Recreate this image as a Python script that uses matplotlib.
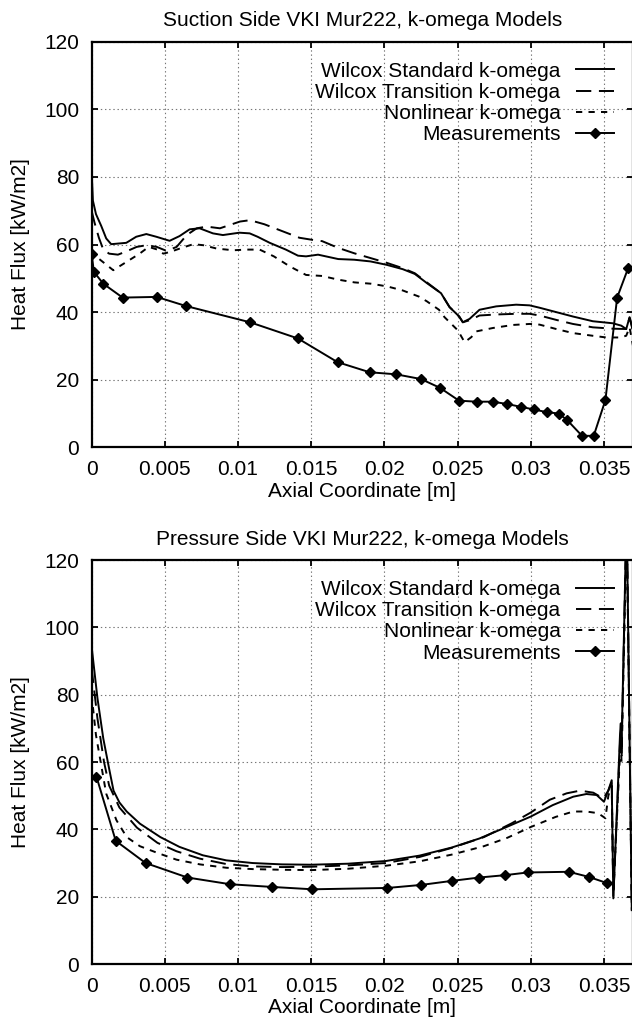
import numpy as np
import matplotlib
matplotlib.use("Agg")
import matplotlib.pyplot as plt

plt.rcParams['font.family'] = ['Liberation Sans', 'DejaVu Sans']
plt.rcParams['lines.scale_dashes'] = False

# ---- Suction side ----
ss_std_x = [0, 0.00009, 0.0003, 0.00066, 0.001, 0.00134, 0.00237, 0.00305, 0.00374, 0.00442,
            0.00533, 0.00601, 0.0067, 0.00738, 0.00829, 0.00897, 0.0101, 0.0108, 0.01134, 0.01217,
            0.01327, 0.0141, 0.01465, 0.01547, 0.016, 0.01685, 0.01795, 0.01905, 0.02015, 0.02126,
            0.02208, 0.0229, 0.02387, 0.02445, 0.02511, 0.02536, 0.02582, 0.0265, 0.02764, 0.029,
            0.02992, 0.0306, 0.03174, 0.03288, 0.03424, 0.0356, 0.03618, 0.03652, 0.03675, 0.0370]
ss_std_y = [82, 73, 69, 65.5, 61.8, 60.1, 60.5, 62.3, 63.1, 62.3,
            61.1, 62.5, 64.5, 64.8, 63.3, 62.8, 63.5, 63.3, 62.3, 60.5,
            58.5, 56.7, 56.5, 57.0, 56.5, 55.7, 55.5, 55.0, 54.0, 52.7,
            51.3, 48.6, 45.6, 41.5, 38.7, 37.0, 38.0, 40.7, 41.7, 42.2,
            42.0, 41.3, 40.0, 38.7, 37.3, 36.7, 36.0, 35.0, 38.5, 34.6]

ss_tra_x = [0, 0.0002, 0.0005, 0.0008, 0.0012, 0.0018, 0.0024, 0.00308, 0.00376, 0.00445,
            0.00513, 0.00581, 0.0065, 0.00718, 0.00786, 0.00877, 0.00945, 0.01014, 0.01082, 0.0118,
            0.013, 0.0142, 0.0152, 0.01575, 0.01685, 0.01795, 0.01905, 0.02015, 0.02126, 0.02208,
            0.0229, 0.02387, 0.02445, 0.02511, 0.02536, 0.02582, 0.0265, 0.02764, 0.029, 0.02992,
            0.0306, 0.03174, 0.03288, 0.03424, 0.0356, 0.03652, 0.03675, 0.0370]
ss_tra_y = [70, 66.5, 62, 58.5, 57.3, 57.0, 58.0, 59.3, 59.8, 59.3,
            58.1, 59.3, 62.8, 64.8, 65.3, 64.8, 65.8, 66.8, 67.2, 66.0,
            64.0, 62.0, 61.3, 61.0, 59.0, 57.4, 56.0, 54.6, 53.0, 51.5,
            48.8, 45.6, 41.5, 38.7, 37.0, 37.6, 39.0, 39.3, 39.5, 39.5,
            39.0, 37.7, 36.5, 35.5, 35.1, 35.0, 38.3, 34.0]

ss_nl_x = [0, 0.00035, 0.00148, 0.0024, 0.00328, 0.0039, 0.0045, 0.0049, 0.00536, 0.00615,
           0.00695, 0.00763, 0.00855, 0.00968, 0.01059, 0.01148, 0.01245, 0.01355, 0.01465, 0.01575,
           0.01685, 0.01795, 0.0191, 0.0202, 0.02126, 0.02236, 0.0229, 0.02373, 0.02411, 0.02502,
           0.02548, 0.02594, 0.02628, 0.02741, 0.02878, 0.02992, 0.0306, 0.03174, 0.03288, 0.03424,
           0.03516, 0.03607, 0.03652, 0.03675, 0.0370]
ss_nl_y = [58.5, 56.3, 52.4, 54.9, 57.3, 59.3, 58.5, 57.3, 57.8, 59.0,
           60.1, 59.8, 58.8, 58.3, 58.5, 58.5, 56.5, 53.5, 51.0, 50.7,
           49.6, 48.8, 48.4, 47.6, 46.4, 44.6, 43.2, 40.7, 38.5, 34.6,
           31.1, 32.6, 34.3, 35.3, 36.2, 36.5, 36.3, 35.0, 33.8, 33.0,
           32.5, 32.5, 33.0, 35.5, 29.6]

ss_meas_x = [0.0, 0.00016, 0.0008, 0.00212, 0.00445, 0.00645, 0.01082, 0.0141, 0.0168, 0.0190,
             0.0208, 0.0225, 0.0238, 0.0251, 0.0263, 0.0274, 0.0284, 0.0293, 0.0302, 0.0311,
             0.0319, 0.0325, 0.0335, 0.0343, 0.0351, 0.0359, 0.03666]
ss_meas_y = [57.3, 51.9, 48.4, 44.3, 44.5, 41.8, 37.0, 32.2, 25.2, 22.2,
             21.6, 20.2, 17.6, 13.8, 13.5, 13.5, 12.8, 12.0, 11.2, 10.4,
             10.0, 8.0, 3.4, 3.4, 14.0, 44.3, 53.1]

# ---- Pressure side ----
ps_std_x = [0, 0.0004, 0.0008, 0.0012, 0.0015, 0.0019, 0.0024, 0.0033, 0.0047, 0.006,
            0.0076, 0.0092, 0.011, 0.013, 0.015, 0.0175, 0.0201, 0.0224, 0.0246, 0.0265,
            0.0284, 0.030, 0.0315, 0.0329, 0.0338, 0.0345, 0.0350, 0.0353, 0.03553, 0.03564,
            0.0361, 0.03615, 0.0362, 0.03655, 0.0369]
ps_std_y = [94.4, 79, 67, 58, 51.5, 48, 45.3, 41.7, 37.7, 34.8,
            32.3, 30.8, 30.0, 29.6, 29.5, 29.8, 30.6, 32.2, 34.6, 37.3,
            40.8, 43.8, 47.2, 49.7, 50.5, 50.2, 48.2, 51.6, 54.6, 19.5,
            68.5, 71.5, 64.5, 135, 16]

ps_tra_x = [0, 0.0004, 0.00085, 0.0012, 0.0019, 0.0031, 0.0045, 0.0058, 0.0074, 0.0092,
            0.011, 0.013, 0.015, 0.0175, 0.0201, 0.0224, 0.0246, 0.0268, 0.0287, 0.030,
            0.0313, 0.03245, 0.03336, 0.03427, 0.03495, 0.0353, 0.03553, 0.03564, 0.0361, 0.03615,
            0.0362, 0.03655, 0.0369]
ps_tra_y = [88, 73, 60, 53, 46.5, 40.5, 36.0, 33.5, 31.3, 29.7,
            29.0, 28.8, 28.9, 29.3, 30.0, 31.8, 34.5, 37.7, 41.8, 45.0,
            48.8, 50.7, 51.5, 50.9, 49.2, 51.5, 54.0, 20.0, 66, 69,
            62, 135, 16]

ps_nl_x = [0, 0.0003, 0.00062, 0.001, 0.0017, 0.0024, 0.0033, 0.0045, 0.0058, 0.0074,
           0.0092, 0.011, 0.013, 0.015, 0.0175, 0.0201, 0.0224, 0.0246, 0.0268, 0.0284,
           0.030, 0.0317, 0.0329, 0.0338, 0.0346, 0.0351, 0.0353, 0.03553, 0.03564, 0.0361,
           0.03615, 0.0362, 0.03655, 0.0369]
ps_nl_y = [80, 68, 60, 50.6, 42.7, 37.7, 35.0, 33.0, 31.0, 29.6,
           28.6, 28.2, 28.0, 27.9, 28.3, 29.2, 30.5, 32.5, 35.0, 37.5,
           40.7, 43.7, 45.3, 45.3, 44.8, 43.3, 50, 53, 21, 63,
           66, 60, 130, 17]

ps_meas_x = [0.00033, 0.00165, 0.00369, 0.00655, 0.00947, 0.01233, 0.01509, 0.02021, 0.02252, 0.02461,
             0.02649, 0.02825, 0.02979, 0.0326, 0.03395, 0.03524]
ps_meas_y = [55.7, 36.6, 30.0, 25.7, 23.7, 22.9, 22.2, 22.6, 23.5, 24.7,
             25.7, 26.4, 27.2, 27.4, 25.9, 24.0]

labels = ['Wilcox Standard k-omega', 'Wilcox Transition k-omega',
          'Nonlinear k-omega', 'Measurements']
xticks = [0, 0.005, 0.01, 0.015, 0.02, 0.025, 0.03, 0.035]
xticklabels = ['0', '0.005', '0.01', '0.015', '0.02', '0.025', '0.03', '0.035']
yticks = [0, 20, 40, 60, 80, 100, 120]

FS = 15
LW = 1.4


def draw_panel(ax, title, std, tra, nl, meas):
    ax.plot(std[0], std[1], color='black', lw=LW, label=labels[0])
    ax.plot(tra[0], tra[1], color='black', lw=LW, dashes=(11, 5.5), label=labels[1])
    ax.plot(nl[0], nl[1], color='black', lw=LW, dashes=(4.5, 4.5), label=labels[2])
    ax.plot(meas[0], meas[1], color='black', lw=LW, marker='D', ms=5,
            label=labels[3])

    ax.set_xlim(0, 0.03698)
    ax.set_ylim(0, 120)
    ax.set_xticks(xticks)
    ax.set_xticklabels(xticklabels)
    ax.set_yticks(yticks)
    ax.tick_params(direction='in', length=4, width=1.3, labelsize=FS,
                   top=True, right=True)
    ax.tick_params(axis='x', pad=9)
    ax.tick_params(axis='y', pad=9)
    for s in ax.spines.values():
        s.set_linewidth(1.6)
    ax.grid(True, color='#777777', lw=0.8, linestyle=(0, (1, 2)))

    ax.set_title(title, fontsize=FS, pad=11)
    ax.set_xlabel('Axial Coordinate [m]', fontsize=FS)
    ax.set_ylabel('Heat Flux [kW/m2]', fontsize=FS)
    ax.xaxis.set_label_coords(0.5, -0.085)
    ax.yaxis.set_label_coords(-0.114, 0.5)

    ax.legend(loc='upper right', bbox_to_anchor=(0.9644, 0.951), frameon=False,
              markerfirst=False, fontsize=FS, borderpad=0, borderaxespad=0,
              labelspacing=0.11, handlelength=1.8, handletextpad=0.75)


fig = plt.figure(figsize=(6.32, 10.18), dpi=100)
ax1 = fig.add_axes([0.1449, 0.5606, 0.8566, 0.3984])
ax2 = fig.add_axes([0.1449, 0.0530, 0.8566, 0.3969])

draw_panel(ax1, 'Suction Side VKI Mur222, k-omega Models',
           (ss_std_x, ss_std_y), (ss_tra_x, ss_tra_y), (ss_nl_x, ss_nl_y),
           (ss_meas_x, ss_meas_y))
draw_panel(ax2, 'Pressure Side VKI Mur222, k-omega Models',
           (ps_std_x, ps_std_y), (ps_tra_x, ps_tra_y), (ps_nl_x, ps_nl_y),
           (ps_meas_x, ps_meas_y))

fig.savefig('out.png', dpi=100)
